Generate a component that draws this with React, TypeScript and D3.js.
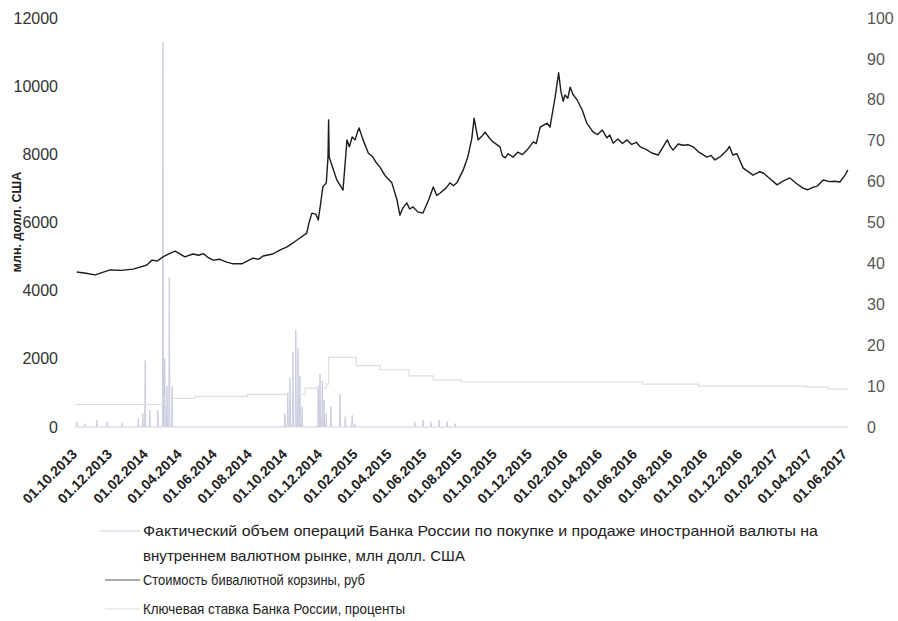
import React from "react";
import * as d3 from "d3";

const width = 898;
const height = 621;

// X axis: a label every two months
const xTickDates = [
  "2013-10-01", "2013-12-01", "2014-02-01", "2014-04-01", "2014-06-01", "2014-08-01",
  "2014-10-01", "2014-12-01", "2015-02-01", "2015-04-01", "2015-06-01", "2015-08-01",
  "2015-10-01", "2015-12-01", "2016-02-01", "2016-04-01", "2016-06-01", "2016-08-01",
  "2016-10-01", "2016-12-01", "2017-02-01", "2017-04-01", "2017-06-01",
];
const leftTicks = [0, 2000, 4000, 6000, 8000, 10000, 12000];
const rightTicks = [0, 10, 20, 30, 40, 50, 60, 70, 80, 90, 100];

// Bi-currency basket, rub (right axis)
const basket: [string, number][] = [
  ["2013-10-04", 37.9], ["2013-10-20", 37.6], ["2013-11-05", 37.2], ["2013-11-18", 37.8],
  ["2013-12-01", 38.4], ["2013-12-20", 38.3], ["2014-01-10", 38.6], ["2014-01-22", 39.1],
  ["2014-02-03", 39.6], ["2014-02-12", 40.8], ["2014-02-21", 40.6], ["2014-03-03", 41.6],
  ["2014-03-14", 42.4], ["2014-03-24", 43.0], ["2014-04-03", 42.2], ["2014-04-10", 41.6],
  ["2014-04-24", 42.3], ["2014-05-04", 42.0], ["2014-05-12", 42.4], ["2014-05-20", 41.5],
  ["2014-05-29", 40.8], ["2014-06-10", 41.0], ["2014-06-22", 40.3], ["2014-07-03", 39.9],
  ["2014-07-18", 39.9], ["2014-07-28", 40.6], ["2014-08-07", 41.3], ["2014-08-16", 41.0],
  ["2014-08-24", 41.8], ["2014-09-10", 42.3], ["2014-09-23", 43.3], ["2014-10-04", 44.0],
  ["2014-10-15", 45.0], ["2014-10-27", 46.2], ["2014-11-08", 47.4], ["2014-11-12", 50.0],
  ["2014-11-17", 52.3], ["2014-11-24", 52.0], ["2014-11-28", 50.6], ["2014-12-02", 54.5],
  ["2014-12-06", 58.7], ["2014-12-12", 59.7], ["2014-12-15", 66.0], ["2014-12-16", 75.1],
  ["2014-12-17", 66.0], ["2014-12-24", 63.0], ["2014-12-30", 60.5], ["2015-01-10", 57.9],
  ["2015-01-17", 70.2], ["2015-01-21", 68.5], ["2015-01-26", 70.9], ["2015-01-31", 70.2],
  ["2015-02-04", 72.0], ["2015-02-07", 73.1], ["2015-02-14", 70.2], ["2015-02-23", 67.0],
  ["2015-03-03", 66.0], ["2015-03-08", 64.8], ["2015-03-15", 63.6], ["2015-03-24", 61.5],
  ["2015-04-05", 59.7], ["2015-04-14", 55.5], ["2015-04-19", 51.8], ["2015-04-24", 53.5],
  ["2015-05-01", 54.8], ["2015-05-06", 53.3], ["2015-05-12", 53.8], ["2015-05-20", 52.6],
  ["2015-05-29", 52.3], ["2015-06-08", 55.5], ["2015-06-16", 58.7], ["2015-06-22", 56.6],
  ["2015-06-28", 57.2], ["2015-07-08", 58.4], ["2015-07-15", 59.7], ["2015-07-21", 59.0],
  ["2015-07-27", 59.7], ["2015-08-07", 62.8], ["2015-08-15", 66.0], ["2015-08-22", 70.5],
  ["2015-08-26", 75.5], ["2015-09-02", 70.2], ["2015-09-08", 71.0], ["2015-09-14", 72.1],
  ["2015-09-22", 70.6], ["2015-09-28", 69.7], ["2015-10-10", 68.5], ["2015-10-14", 66.4],
  ["2015-10-19", 65.8], ["2015-10-24", 66.8], ["2015-11-02", 66.0], ["2015-11-10", 67.2],
  ["2015-11-18", 66.6], ["2015-11-26", 67.7], ["2015-12-07", 69.7], ["2015-12-12", 69.3],
  ["2015-12-19", 73.3], ["2015-12-31", 74.3], ["2016-01-05", 73.3], ["2016-01-14", 80.7],
  ["2016-01-20", 86.6], ["2016-01-24", 82.0], ["2016-01-28", 79.6], ["2016-01-31", 81.2],
  ["2016-02-05", 80.4], ["2016-02-09", 83.1], ["2016-02-14", 81.3], ["2016-02-21", 80.0],
  ["2016-03-01", 77.5], ["2016-03-09", 74.3], ["2016-03-20", 72.1], ["2016-03-28", 71.5],
  ["2016-04-05", 72.6], ["2016-04-13", 70.7], ["2016-04-18", 71.4], ["2016-04-24", 69.4],
  ["2016-05-02", 70.4], ["2016-05-10", 69.3], ["2016-05-18", 70.2], ["2016-05-26", 69.1],
  ["2016-06-03", 69.6], ["2016-06-10", 68.5], ["2016-06-20", 67.9], ["2016-06-30", 67.0],
  ["2016-07-11", 66.5], ["2016-07-27", 70.2], ["2016-08-01", 68.6], ["2016-08-06", 67.7],
  ["2016-08-15", 69.2], ["2016-08-23", 68.9], ["2016-09-02", 69.0], ["2016-09-10", 68.5],
  ["2016-09-20", 67.2], ["2016-10-04", 66.0], ["2016-10-11", 66.4], ["2016-10-18", 65.3],
  ["2016-10-28", 66.2], ["2016-11-08", 67.7], ["2016-11-12", 68.6], ["2016-11-18", 66.5],
  ["2016-11-25", 66.8], ["2016-12-06", 63.3], ["2016-12-14", 62.5], ["2016-12-23", 61.6],
  ["2017-01-03", 62.4], ["2017-01-10", 62.1], ["2017-01-20", 60.9], ["2017-02-03", 59.2],
  ["2017-02-14", 60.2], ["2017-02-25", 60.9], ["2017-03-08", 59.6], ["2017-03-20", 58.4],
  ["2017-03-28", 58.0], ["2017-04-06", 58.6], ["2017-04-14", 58.9], ["2017-04-24", 60.4],
  ["2017-05-05", 60.0], ["2017-05-14", 60.1], ["2017-05-23", 59.9], ["2017-06-01", 61.6],
  ["2017-06-06", 62.8],
];

// Key rate of the Bank of Russia, % (right axis), effective dates
const keyRate: [string, number][] = [
  ["2013-10-01", 5.5], ["2014-03-03", 7.0], ["2014-04-28", 7.5], ["2014-07-28", 8.0],
  ["2014-11-05", 9.5], ["2014-12-12", 10.5], ["2014-12-16", 17.0], ["2015-02-02", 15.0],
  ["2015-03-16", 14.0], ["2015-05-05", 12.5], ["2015-06-16", 11.5], ["2015-08-03", 11.0],
  ["2016-06-14", 10.5], ["2016-09-19", 10.0], ["2017-03-27", 9.75], ["2017-05-02", 9.25],
  ["2017-06-06", 9.25],
];

// FX operations of the Bank of Russia, mln USD (left axis), non-zero days
const interventions: [string, number][] = [
  ["2013-10-04", 150], ["2013-10-18", 100], ["2013-11-08", 200], ["2013-11-26", 150],
  ["2013-12-22", 120], ["2014-01-19", 250], ["2014-01-27", 400], ["2014-01-31", 1950],
  ["2014-02-08", 500], ["2014-02-22", 500], ["2014-03-03", 11300], ["2014-03-06", 2000],
  ["2014-03-10", 1200], ["2014-03-14", 4400], ["2014-03-19", 1200],
  ["2014-10-01", 400], ["2014-10-06", 1000], ["2014-10-10", 1450], ["2014-10-15", 2200],
  ["2014-10-20", 2850], ["2014-10-24", 2300], ["2014-10-27", 1500], ["2014-10-31", 600],
  ["2014-11-28", 1200], ["2014-12-01", 1550], ["2014-12-05", 1350], ["2014-12-08", 800],
  ["2014-12-12", 400], ["2014-12-20", 600], ["2015-01-05", 970], ["2015-01-14", 300],
  ["2015-01-26", 350], ["2015-01-31", 100],
  ["2015-05-15", 150], ["2015-05-29", 200], ["2015-06-12", 150], ["2015-06-26", 200],
  ["2015-07-10", 150], ["2015-07-24", 100],
];

const legendItems = [
  "Фактический объем операций Банка России по покупке и продаже иностранной валюты на",
  "внутреннем валютном рынке, млн долл. США",
  "Стоимость бивалютной корзины, руб",
  "Ключевая ставка Банка России, проценты",
];

const parse = d3.timeParse("%Y-%m-%d");
const fmt = d3.timeFormat("%d.%m.%Y");

const App: React.FC = () => {
  const x = d3
    .scaleTime()
    .domain([parse("2013-10-01")!, parse("2017-06-01")!])
    .range([75, 845]);
  const yLeft = d3.scaleLinear().domain([0, 12000]).range([427, 18]);
  const yRight = d3.scaleLinear().domain([0, 100]).range([427, 18]);

  const basketLine = d3
    .line<[string, number]>()
    .x((d) => x(parse(d[0])!))
    .y((d) => yRight(d[1]));

  const rateLine = d3
    .line<[string, number]>()
    .x((d) => x(parse(d[0])!))
    .y((d) => yRight(d[1]))
    .curve(d3.curveStepAfter);

  // spikes: each operation day rises from zero and falls back next day
  const dayMs = 86400000;
  const spikePts: [Date, number][] = [[parse("2013-10-01")!, 0]];
  interventions.forEach(([ds, v]) => {
    const t = parse(ds)!;
    spikePts.push([new Date(+t - dayMs), 0], [t, v], [new Date(+t + dayMs), 0]);
  });
  spikePts.push([parse("2017-06-06")!, 0]);
  const spikeLine = d3
    .line<[Date, number]>()
    .x((d) => x(d[0]))
    .y((d) => yLeft(d[1]));

  const font = "'Liberation Sans', Arial, sans-serif";
  const opsColor = "#c9cde0";
  const rateColor = "#dedede";

  const legendY = [536, 561, 585, 614];
  const legendLen = [675, 322, 222, 262];

  return (
    <svg
      width={width}
      height={height}
      style={{ position: "absolute", left: 0, top: 0, background: "#fff" }}
      fontFamily={font}
    >
      {/* left axis */}
      {leftTicks.map((t) => (
        <text key={t} x={58} y={yLeft(t)} dy="0.35em" textAnchor="end" fontSize={16} fill="#333">
          {t}
        </text>
      ))}
      <text
        transform={`translate(21,222) rotate(-90)`}
        textAnchor="middle"
        fontSize={12.5}
        fontWeight="bold"
        fill="#222"
      >
        млн. долл. США
      </text>

      {/* right axis */}
      {rightTicks.map((t) => (
        <text key={t} x={867} y={yRight(t)} dy="0.35em" textAnchor="start" fontSize={16} fill="#555">
          {t}
        </text>
      ))}

      {/* x labels */}
      {xTickDates.map((ds) => {
        const px = x(parse(ds)!);
        return (
          <text
            key={ds}
            transform={`translate(${px + 3},455) rotate(-45)`}
            textAnchor="end"
            fontSize={14}
            fontWeight="bold"
            fill="#222"
          >
            {fmt(parse(ds)!)}
          </text>
        );
      })}

      {/* series */}
      <path d={spikeLine(spikePts) ?? ""} fill="none" stroke={opsColor} strokeWidth={1} />
      <path d={rateLine(keyRate) ?? ""} fill="none" stroke={rateColor} strokeWidth={1.2} />
      <path d={basketLine(basket) ?? ""} fill="none" stroke="#1c1c1c" strokeWidth={1.4} strokeLinejoin="round" />

      {/* legend */}
      <line x1={100} x2={140} y1={legendY[0] - 5} y2={legendY[0] - 5} stroke={opsColor} strokeWidth={1.2} />
      <line x1={105} x2={140} y1={legendY[2] - 5} y2={legendY[2] - 5} stroke="#555" strokeWidth={1.2} />
      <line x1={105} x2={140} y1={legendY[3] - 5} y2={legendY[3] - 5} stroke={rateColor} strokeWidth={1.2} />
      {legendItems.map((s, i) => (
        <text
          key={i}
          x={143}
          y={legendY[i]}
          fontSize={15}
          fill="#222"
          textLength={legendLen[i]}
          lengthAdjust="spacingAndGlyphs"
        >
          {s}
        </text>
      ))}
    </svg>
  );
};

export default App;
